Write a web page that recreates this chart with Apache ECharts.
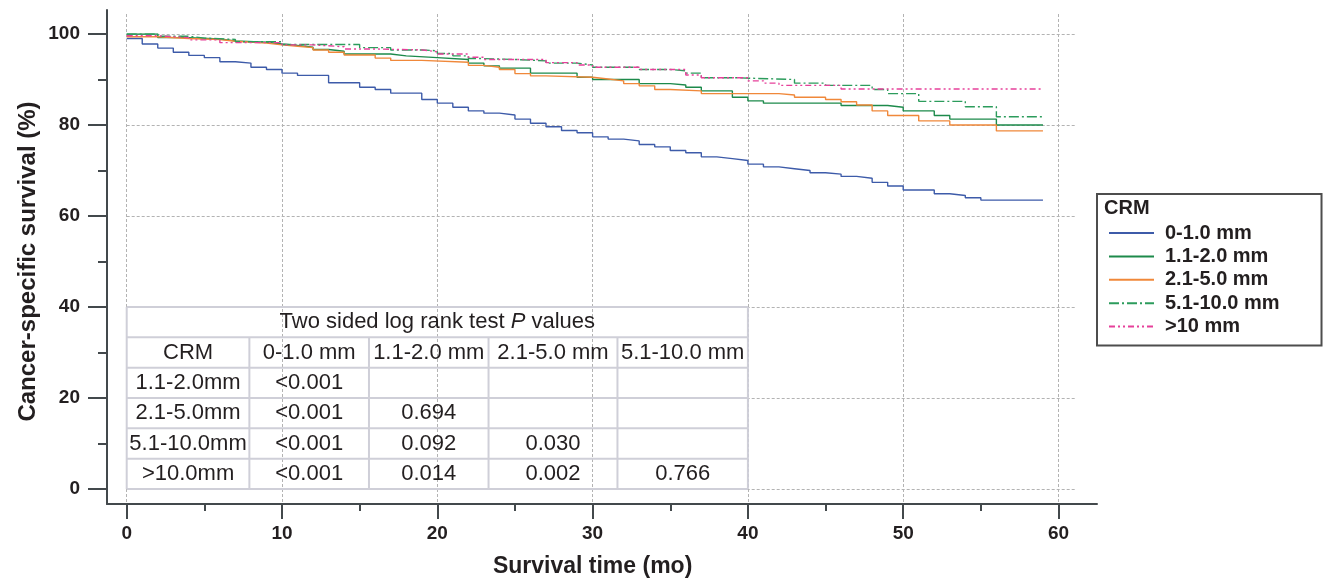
<!DOCTYPE html>
<html><head><meta charset="utf-8">
<script src="https://cdn.jsdelivr.net/npm/echarts@6/dist/echarts.min.js"></script>
<style>html,body{margin:0;padding:0;background:#fff}#c{width:1325px;height:583px}</style>
</head><body><div id="c"></div>
<script>
// ---------- data ----------
const seriesNames = ['0-1.0 mm', '1.1-2.0 mm', '2.1-5.0 mm', '5.1-10.0 mm', '>10 mm'];

const tA = [0,1,2,3,4,5,6,7,8,9,10,11,13,15,16,17,19,20,21,22,23,24,25,26,27,28,29,30,31,32,33,34,35,36,37,38,39,40,41,42,43,44,45,46,47,48,49,50,52,53,54,55,59];
const sA = [99.0,97.8,96.9,96.0,95.3,94.8,93.9,93.6,92.7,92.2,91.4,90.9,89.3,88.3,87.8,87.0,85.6,84.8,83.9,83.1,82.6,82.2,81.3,80.4,79.6,78.8,78.3,77.4,76.9,76.5,75.7,75.2,74.4,73.9,73.0,72.6,72.2,71.4,70.8,70.4,70.0,69.5,69.2,68.7,68.3,67.4,66.6,65.7,64.9,64.5,64.0,63.5,63.5];

const tB = [0,2,4,6,7,9,10,11,12,13,14,17,18,20,22,23,24,26,29,30,33,35,36,37,39,40,41,46,49,50,52,53,56,59];
const sB = [100,99.2,98.9,98.5,98.2,97.8,97.5,97.1,96.6,96.2,95.6,95.2,94.8,94.4,93.6,93.0,92.5,91.4,90.5,90.0,89.1,88.8,88.3,87.5,86.1,85.3,84.8,84.3,83.9,83.1,82.1,81.3,80.0,80.0];

const tC = [0,2,4,6,7,9,10,11,12,13,14,16,17,19,22,23,24,25,26,27,30,31,32,33,34,35,37,42,43,45,46,47,48,49,51,53,56,59];
const sC = [99.4,99.0,98.8,98.4,98.0,97.6,97.3,97.0,96.5,96.0,95.4,94.7,94.2,93.8,93.1,92.7,92.2,91.3,90.8,90.5,90.1,89.7,89.1,88.6,87.8,87.5,86.9,86.6,86.1,85.6,85.1,84.4,83.1,82.1,80.9,80.0,78.7,78.7];

const tD = [0,2,4,5,7,10,15,17,19,20,21,22,23,25,27,29,30,33,35,36,37,39,43,45,48,49,51,54,56,59];
const sD = [100,99.5,99.1,98.8,98.3,97.7,97.0,96.5,96.3,95.7,95.2,94.6,94.4,94.1,93.6,93.2,92.7,92.2,91.9,91.4,90.4,90.0,89.2,88.7,87.8,86.9,85.2,84.0,81.8,81.8];

const tE = [0,2,4,6,10,12,14,16,19,20,22,23,27,29,30,33,36,37,40,41,42,46,59];
const sE = [99.6,99.2,98.7,98.1,97.6,97.2,96.7,96.5,96.1,95.6,94.9,94.4,93.7,93.2,92.7,92.2,91.0,90.4,89.7,89.2,88.7,87.9,87.9];

const tableTitle = 'Two sided log rank test {i|P} values';
const tableHeader = ['CRM', '0-1.0 mm', '1.1-2.0 mm', '2.1-5.0 mm', '5.1-10.0 mm'];
const tableRowLabels = ['1.1-2.0mm', '2.1-5.0mm', '5.1-10.0mm', '>10.0mm'];
const pRow1 = ['<0.001'];
const pRow2 = ['<0.001', '0.694'];
const pRow3 = ['<0.001', '0.092', '0.030'];
const pRow4 = ['<0.001', '0.014', '0.002', '0.766'];

// ---------- style / layout ----------
const AX = '#43494c', TXT = '#231f20', GRIDC = '#b3b3b3', TBL = '#cfcfd8';
const FONT = '"Liberation Sans", Arial, sans-serif';
const colors = ['#3d5ba9', '#1d8a4b', '#f0883a', '#2c9c5c', '#e6409a'];
const dashes = ['solid', 'solid', 'solid', [10, 3, 2, 3], [6, 3, 2, 3, 2, 3]];
const tableCols = [0, 7.9, 15.6, 23.3, 31.6, 40];   // table column edges in axis units
const tableRowsY = [40, 33.333, 26.667, 20, 13.333, 6.667, 0];

const zip = (t, s) => t.map((v, i) => [v, s[i]]);
const allData = [zip(tA, sA), zip(tB, sB), zip(tC, sC), zip(tD, sD), zip(tE, sE)];

const hidden = {axisLine:{show:false}, axisTick:{show:false}, axisLabel:{show:false}, splitLine:{show:false}};
const hid = (g) => Object.assign({type:'value', gridIndex:g, min:0, max:1}, hidden);
const tickStyle = {color:AX, width:2};
const chart = echarts.init(document.getElementById('c'), null, {renderer:'canvas'});

const option = {
  animation: false,
  backgroundColor: '#fff',
  title: {text:'CRM', left:1104, top:198, padding:0,
    textStyle:{fontSize:20, fontWeight:'bold', color:TXT, fontFamily:FONT}},
  legend: {orient:'vertical', left:1097, top:194, padding:[29,42,9,11],
    itemWidth:45, itemHeight:14, itemGap:3.4, borderColor:'#4d4d4d', borderWidth:2,
    itemStyle:{opacity:0},
    textStyle:{fontSize:20, fontWeight:'bold', color:TXT, fontFamily:FONT, padding:[0,0,0,6]},
    data: seriesNames},
  grid: [
    {left:126.7, top:34, width:931.8, height:455},   // 0 data
    {left:126.7, top:14, width:948.3, height:490},   // 1 vertical grid lines
    {left:126.7, top:34, width:948.3, height:455},   // 2 horizontal grid lines
    {left:107, top:10, width:990, height:494},       // 3 axis frame lines
    {left:107, top:34, width:100, height:455},       // 4 y ticks & labels
    {left:126.7, top:34, width:931.8, height:470}    // 5 x ticks & labels
  ],
  xAxis: [
    Object.assign({type:'value', gridIndex:0, min:0, max:60}, hidden),
    Object.assign({type:'value', gridIndex:1, min:0, max:948.3/15.53, interval:10}, hidden,
      {splitLine:{show:true, showMaxLine:false, lineStyle:{color:GRIDC, width:1, type:[3,2]}}}),
    hid(2),
    Object.assign(hid(3), {axisLine:{show:true, onZero:false, lineStyle:{color:AX, width:2}}}),
    hid(4),
    {type:'value', gridIndex:5, min:0, max:60, interval:10,
      axisLine:{show:false},
      axisTick:{show:true, length:16, lineStyle:tickStyle},
      minorTick:{show:true, splitNumber:2, length:8, lineStyle:tickStyle},
      axisLabel:{margin:21, fontSize:19, fontWeight:'bold', color:TXT, fontFamily:FONT},
      splitLine:{show:false}, minorSplitLine:{show:false},
      name:'Survival time (mo)', nameLocation:'middle', nameGap:52,
      nameTextStyle:{fontSize:23, fontWeight:'bold', color:TXT, fontFamily:FONT}}
  ],
  yAxis: [
    Object.assign({type:'value', gridIndex:0, min:0, max:100}, hidden),
    hid(1),
    Object.assign({type:'value', gridIndex:2, min:0, max:100, interval:20}, hidden,
      {splitLine:{show:true, lineStyle:{color:GRIDC, width:1, type:[3,2]}}}),
    Object.assign(hid(3), {axisLine:{show:true, onZero:false, lineStyle:{color:AX, width:2}}}),
    {type:'value', gridIndex:4, min:0, max:100, interval:20,
      axisLine:{show:false},
      axisTick:{show:true, length:19, lineStyle:tickStyle},
      minorTick:{show:true, splitNumber:2, length:9, lineStyle:tickStyle},
      axisLabel:{margin:27, fontSize:19, fontWeight:'bold', color:TXT, fontFamily:FONT},
      splitLine:{show:false}, minorSplitLine:{show:false},
      name:'Cancer-specific survival (%)', nameLocation:'middle', nameGap:67,
      nameTextStyle:{fontSize:24, fontWeight:'bold', color:TXT, fontFamily:FONT}},
    hid(5)
  ],
  series: seriesNames.map((n, i) => ({
    type:'line', name:n, data:allData[i], step:'end', symbol:'none', showSymbol:false,
    xAxisIndex:0, yAxisIndex:0, silent:true, z:3,
    lineStyle:{color:colors[i], width:1.4, type:dashes[i]},
    itemStyle:{color:colors[i]}
  }))
};
chart.setOption(option);

// ---------- P-value table, positioned via the data axes ----------
function P(x, y) { return chart.convertToPixel({gridIndex:0}, [x, y]); }
const els = [];
function seg(a, b) {
  els.push({type:'line', silent:true, z:5, shape:{x1:a[0], y1:a[1], x2:b[0], y2:b[1]}, style:{stroke:TBL, lineWidth:2}});
}
function txt(s, xc, yc) {
  const p = P(xc, yc);
  els.push({type:'text', silent:true, z:6, x:p[0], y:p[1],
    style:{text:s, fill:TXT, fontSize:22, fontFamily:FONT, align:'center', verticalAlign:'middle',
      rich:{i:{fontStyle:'italic', fontSize:22, fontFamily:FONT, fill:TXT}}}});
}
const xL = tableCols[0], xR = tableCols[tableCols.length - 1];
const yT = tableRowsY[0], yB = tableRowsY[tableRowsY.length - 1];
tableRowsY.forEach(y => seg(P(xL, y), P(xR, y)));
seg(P(xL, yT), P(xL, yB));
seg(P(xR, yT), P(xR, yB));
for (let c = 1; c < tableCols.length - 1; c++) seg(P(tableCols[c], tableRowsY[1]), P(tableCols[c], yB));
const rowMid = r => (tableRowsY[r] + tableRowsY[r + 1]) / 2;
const colMid = c => (tableCols[c] + tableCols[c + 1]) / 2;
txt(tableTitle, (xL + xR) / 2, rowMid(0));
tableHeader.forEach((h, c) => txt(h, colMid(c), rowMid(1)));
const pRows = [pRow1, pRow2, pRow3, pRow4];
tableRowLabels.forEach((lab, r) => {
  txt(lab, colMid(0), rowMid(r + 2));
  pRows[r].forEach((v, c) => txt(v, colMid(c + 1), rowMid(r + 2)));
});
chart.setOption({graphic: els});
</script></body></html>
